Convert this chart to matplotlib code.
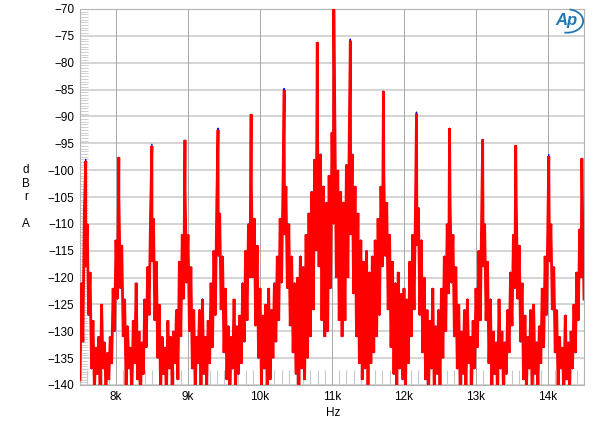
import matplotlib
matplotlib.use("Agg")
import matplotlib.pyplot as plt
from matplotlib.patches import Arc
from matplotlib.ticker import MultipleLocator
import numpy as np

plt.rcParams['font.family'] = ['Liberation Sans', 'DejaVu Sans']

# J-test style spectrum: main tone + odd-order sidebands (Hz, dBr)
tone_hz = [7579.7, 8039.1, 8498.4, 8957.8, 9417.2, 9876.6, 10335.9, 10795.3,
           11025.0, 11254.7, 11714.1, 12173.4, 12632.8, 13092.2, 13551.6,
           14010.9, 14470.3]
tone_db_red = [-98.3, -97.6, -95.5, -94.4, -92.5, -89.6, -85.1, -76.2,
               -69.5, -75.9, -85.3, -89.5, -92.2, -94.3, -95.4, -97.4, -97.8]
tone_db_blue = [-98.0, -97.6, -95.2, -94.4, -92.2, -89.6, -84.8, -76.2,
                -69.5, -75.6, -85.3, -89.2, -92.2, -94.3, -95.4, -97.1, -97.8]

# local maxima of the noise / low-level products, every 40 Hz from 7520 Hz
peak_hz = np.arange(7520, 14481, 40)
peak_db = [
    -121, -108, -110, -119, -128, -133, -131, -125, -132, -134,
    -131, -122, -113, -105, -114, -124, -129, -133, -128, -121,
    -130, -132, -124, -118, -108, -109, -117, -125, -131, -133,
    -128, -131, -130, -126, -117, -112, -104, -112, -118, -126,
    -131, -126, -124, -131, -128, -121, -115, -106, -108, -116,
    -122, -129, -131, -124, -129, -127, -121, -115, -110, -103,
    -109, -114, -122, -127, -125, -122, -126, -121, -116, -109,
    -102, -103, -110, -116, -121, -120, -116, -118, -112, -108,
    -104, -98, -94, -97, -103, -106, -101, -93, -92, -100,
    -104, -106, -99, -93, -97, -103, -108, -113, -117, -115,
    -119, -116, -113, -109, -103, -101, -106, -112, -117, -121,
    -119, -123, -122, -124, -117, -112, -106, -107, -113, -120,
    -126, -128, -122, -129, -126, -122, -116, -110, -106, -112,
    -118, -125, -130, -126, -124, -131, -128, -122, -115, -108,
    -110, -117, -124, -130, -132, -124, -130, -132, -126, -119,
    -112, -107, -114, -121, -127, -131, -126, -125, -132, -129,
    -122, -116, -108, -110, -118, -126, -131, -133, -127, -132,
    -130, -125, -119, -111, -108,
]

# local minima between them, every 40 Hz from 7500 Hz
trough_hz = np.arange(7500, 14501, 40)
trough_db = [
    -139, -132, -118, -127, -137, -141, -138, -142, -137, -141,
    -139, -136, -130, -124, -122, -131, -140, -137, -142, -136,
    -139, -142, -138, -133, -127, -117, -128, -135, -141, -138,
    -142, -137, -140, -136, -139, -131, -124, -121, -130, -137,
    -141, -136, -142, -138, -140, -136, -133, -127, -116, -126,
    -134, -139, -142, -137, -141, -138, -136, -132, -128, -120,
    -120, -129, -135, -140, -137, -141, -139, -135, -132, -128,
    -121, -112, -122, -129, -134, -138, -140, -137, -139, -135,
    -131, -126, -115, -118, -128, -131, -130, -122, -110, -120,
    -128, -131, -128, -120, -112, -123, -131, -136, -139, -137,
    -140, -136, -134, -131, -127, -118, -116, -126, -133, -138,
    -141, -137, -139, -142, -136, -131, -126, -114, -127, -134,
    -139, -142, -137, -141, -138, -140, -135, -130, -123, -121,
    -131, -137, -141, -138, -142, -136, -140, -137, -133, -128,
    -118, -128, -136, -141, -138, -142, -137, -140, -138, -134,
    -129, -122, -124, -132, -139, -141, -137, -142, -138, -140,
    -136, -133, -127, -117, -126, -134, -140, -137, -142, -139,
    -141, -137, -134, -128, -120, -124,
]

x_ticks = [8000, 9000, 10000, 11000, 12000, 13000, 14000]
x_labels = ['8k', '9k', '10k', '11k', '12k', '13k', '14k']
y_ticks = list(range(-140, -69, 5))


def spectrum(tone_db):
    f = np.concatenate([peak_hz, trough_hz, tone_hz])
    d = np.concatenate([peak_db, trough_db, tone_db])
    order = np.argsort(f, kind='stable')
    return f[order], d[order]


fig = plt.figure(figsize=(6, 4.3), dpi=100)
ax = fig.add_axes([80 / 600, 45 / 430, 504 / 600, 376 / 430])

fb, db = spectrum(tone_db_blue)
fr, dr = spectrum(tone_db_red)
ax.plot(fb, db, color='#0000ff', lw=1.0, zorder=3)
ax.plot(fr, dr, color='#ff0000', lw=2.0, zorder=4, solid_joinstyle='miter')

ax.set_xlim(7500, 14500)
ax.set_ylim(-140, -70)
ax.set_xticks(x_ticks)
ax.set_xticklabels(x_labels)
ax.set_yticks(y_ticks)
ax.xaxis.set_minor_locator(MultipleLocator(100))
ax.yaxis.set_minor_locator(MultipleLocator(0.5))
ax.tick_params(which='major', length=0, labelsize=8.5, pad=4, colors='black')
ax.tick_params(axis='x', which='minor', direction='in', length=11,
               width=0.8, color='#c8c8c8')
ax.tick_params(axis='y', which='minor', direction='in', length=6,
               width=0.6, color='#c8c8c8')

for y in y_ticks:
    ax.axhline(y, color='#d4d4d4', lw=1.4, zorder=1)
for x in x_ticks:
    ax.axvline(x, color='#a8a8a8', lw=0.7, zorder=1)
for s in ax.spines.values():
    s.set_color('#b4b4b4')
    s.set_linewidth(0.8)

fig.text(26 / 600, 1 - 197 / 430, 'd\nB\nr\n\nA', ha='center', va='center',
         fontsize=8.5, linespacing=1.15)
fig.text(333 / 600, 1 - 413 / 430, 'Hz', ha='center', va='center', fontsize=8.5)

# AP logo
fig.text(566 / 600, 1 - 20 / 430, 'Ap', ha='center', va='center',
         fontsize=12, style='italic', fontweight='bold', color='#1f78b4')
logo = fig.add_axes([550 / 600, 1 - 34 / 430, 34 / 600, 26 / 430])
logo.axis('off')
logo.set_xlim(0, 1)
logo.set_ylim(0, 1)
logo.add_patch(Arc((0.5, 0.5), 0.95, 0.9, theta1=-100, theta2=80,
                   color='#1f78b4', lw=1.3))

fig.savefig('out.png', dpi=100)
